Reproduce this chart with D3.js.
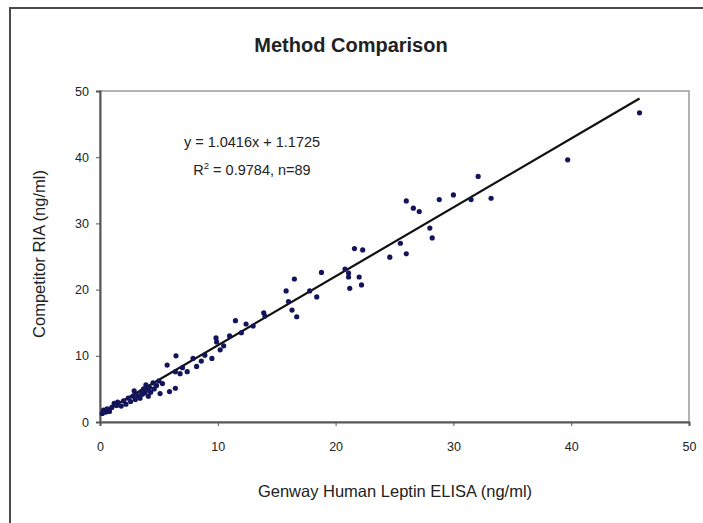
<!DOCTYPE html>
<html>
<head>
<meta charset="utf-8">
<script src="https://cdn.jsdelivr.net/npm/d3@7"></script>
<style>
  body { margin: 0; background: #fff; }
  svg text { font-family: "Liberation Sans", Arial, sans-serif; fill: #222; }
</style>
</head>
<body>
<div id="chart"></div>
<script>
'use strict';

// Genway ELISA values (x) vs competitor RIA values (y)
const elisa = [
    45.8, 39.7, 32.1, 30.0, 28.8, 31.5, 33.2, 26.0, 26.6, 27.1,
    28.0, 28.2, 25.5, 26.0, 24.6, 21.6, 22.3, 20.8, 21.1, 21.1,
    22.0, 22.2, 21.2, 18.8, 16.5, 15.8, 17.8, 18.4, 16.3, 16.7,
    16.0, 13.9, 14.0, 11.5, 12.4, 13.0, 11.0, 9.85, 9.9, 10.2,
    9.5, 7.9, 6.45, 5.7, 8.2, 7.4, 6.4, 6.4, 5.9, 5.1,
    8.9, 10.5, 12.0, 7.0, 6.8, 8.6, 0.2, 0.3, 0.5, 0.6,
    0.8, 1.0, 1.2, 1.4, 1.5, 1.8, 2.0, 2.2, 2.4, 2.6,
    2.8, 3.0, 3.2, 3.4, 3.5, 3.6, 3.7, 3.8, 3.9, 4.0,
    4.1, 4.2, 4.3, 4.5, 4.6, 4.8, 5.0, 5.3, 2.9
];
const ria = [
    46.7, 39.6, 37.1, 34.3, 33.6, 33.6, 33.8, 33.4, 32.3, 31.8,
    29.3, 27.8, 27.0, 25.4, 24.9, 26.2, 26.0, 23.1, 22.5, 21.9,
    21.9, 20.7, 20.2, 22.6, 21.6, 19.8, 19.8, 18.9, 16.9, 15.9,
    18.2, 16.5, 16.0, 15.3, 14.8, 14.5, 13.0, 12.7, 12.1, 10.9,
    9.6, 9.6, 10.0, 8.6, 8.4, 7.6, 7.6, 5.1, 4.6, 4.3,
    10.1, 11.5, 13.5, 8.2, 7.3, 9.2, 1.3, 1.8, 1.5, 2.0,
    1.6, 2.2, 2.8, 2.5, 3.0, 2.4, 3.2, 2.7, 3.6, 3.1,
    3.9, 3.4, 4.0, 3.6, 4.6, 4.2, 5.0, 4.4, 5.6, 4.8,
    3.9, 5.2, 4.5, 5.9, 5.0, 5.5, 6.2, 5.8, 4.7
];
const xTicks = [0, 10, 20, 30, 40, 50];
const yTicks = [0, 10, 20, 30, 40, 50];
const slope = 1.0416;
const intercept = 1.1725;

const points = elisa.map((x, i) => ({ x: x, y: ria[i] }));

let width = 703;
let height = 523;
let margin = { top: 91, bottom: 101, left: 100, right: 14 };

const svg = d3.select("#chart")
    .append("svg")
    .attr("width", width)
    .attr("height", height);

// outer frame (top + left edge only show in the picture)
svg.append("path")
    .attr("d", `M10,${height} L10,8 L${width},8`)
    .attr("fill", "none")
    .attr("stroke", "#4a4a4a")
    .attr("stroke-width", 2);

const xScale = d3.scaleLinear()
    .domain([0, 50])
    .range([margin.left, width - margin.right]);

const yScale = d3.scaleLinear()
    .domain([0, 50])
    .range([height - margin.bottom, margin.top]);

// plot area border
svg.append("rect")
    .attr("x", xScale(0))
    .attr("y", yScale(50))
    .attr("width", xScale(50) - xScale(0))
    .attr("height", yScale(0) - yScale(50))
    .attr("fill", "none")
    .attr("stroke", "#9a9a9a")
    .attr("stroke-width", 1.5);

const xAxis = d3.axisBottom(xScale).tickValues(xTicks).tickSize(4).tickPadding(16);
const yAxis = d3.axisLeft(yScale).tickValues(yTicks).tickSize(4).tickPadding(7);

const gx = svg.append("g")
    .attr("class", "axis x-axis")
    .attr("transform", `translate(0,${yScale(0)})`)
    .call(xAxis);
const gy = svg.append("g")
    .attr("class", "axis y-axis")
    .attr("transform", `translate(${xScale(0)},0)`)
    .call(yAxis);

[gx, gy].forEach(g => {
    g.select(".domain").attr("stroke", "#555").attr("stroke-width", 2);
    g.selectAll(".tick line").attr("stroke", "#555");
    g.selectAll(".tick text")
        .attr("font-size", 12.5)
        .attr("font-family", "Liberation Sans, Arial, sans-serif")
        .attr("fill", "#333");
});

// trend line over the data range
const xMin = 0, xMax = d3.max(elisa);
svg.append("line")
    .attr("x1", xScale(xMin))
    .attr("y1", yScale(slope * xMin + intercept))
    .attr("x2", xScale(xMax))
    .attr("y2", yScale(slope * xMax + intercept))
    .attr("stroke", "#111")
    .attr("stroke-width", 2.2);

svg.append("g")
    .selectAll("circle")
    .data(points)
    .join("circle")
    .attr("cx", d => xScale(d.x))
    .attr("cy", d => yScale(d.y))
    .attr("r", 2.6)
    .attr("fill", "#14145a");

// title
svg.append("text")
    .attr("x", 351)
    .attr("y", 52)
    .attr("text-anchor", "middle")
    .attr("font-size", 20)
    .attr("font-weight", "bold")
    .attr("fill", "#111")
    .text("Method Comparison");

// equation
svg.append("text")
    .attr("x", 252)
    .attr("y", 147)
    .attr("text-anchor", "middle")
    .attr("font-size", 14.5)
    .text("y = 1.0416x + 1.1725");

const r2 = svg.append("text")
    .attr("x", 252)
    .attr("y", 175)
    .attr("text-anchor", "middle")
    .attr("font-size", 14.5);
r2.append("tspan").text("R");
r2.append("tspan").attr("dy", -6).attr("font-size", 9.5).text("2");
r2.append("tspan").attr("dy", 6).text(" = 0.9784, n=89");

// axis labels
svg.append("text")
    .attr("x", 395)
    .attr("y", 497)
    .attr("text-anchor", "middle")
    .attr("font-size", 16.5)
    .text("Genway Human Leptin ELISA (ng/ml)");

svg.append("text")
    .attr("transform", `translate(45,254) rotate(-90)`)
    .attr("text-anchor", "middle")
    .attr("font-size", 16.5)
    .text("Competitor RIA (ng/ml)");
</script>
</body>
</html>
